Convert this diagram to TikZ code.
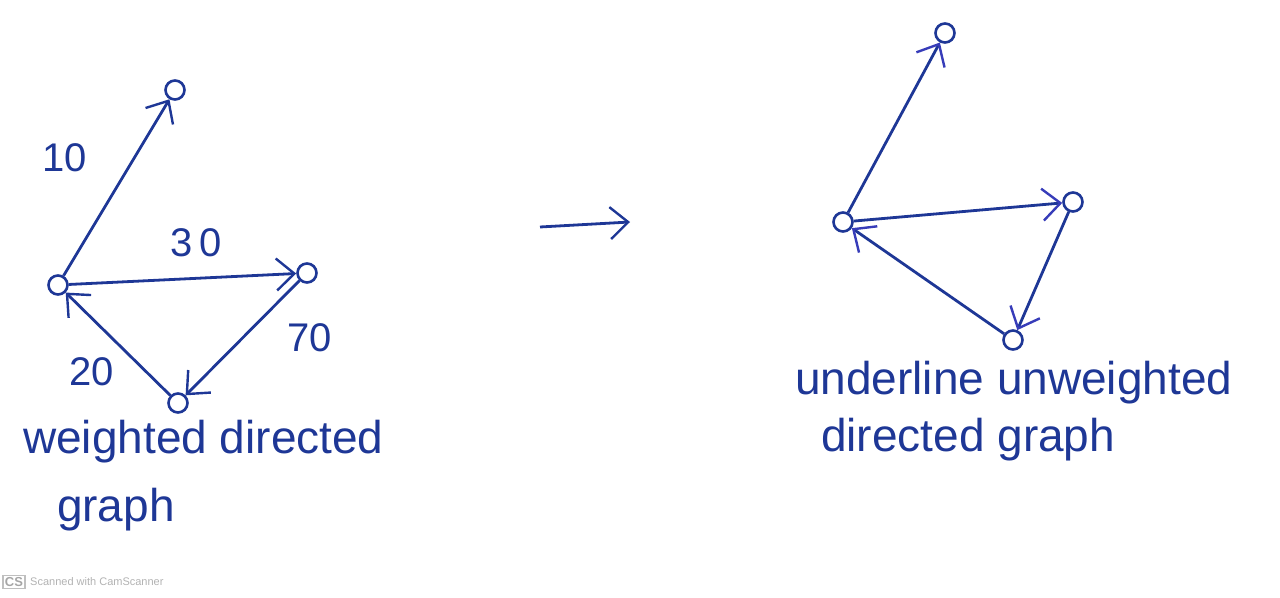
\documentclass[tikz,border=0pt]{standalone}
\usepackage{fontspec}
\setmainfont{Liberation Sans}
\usepackage{tikz}
\usetikzlibrary{arrows.meta}
\usetikzlibrary{positioning}
\usepackage{xcolor}
\definecolor{ink}{RGB}{30,55,150}
\definecolor{inktwo}{RGB}{55,60,185}
\tikzset{
  vx/.style={circle,draw=ink,line width=1.3pt,minimum size=9.5pt,inner sep=0pt},
  ed/.style={draw=ink,line width=1.4pt,-{Straight Barb[length=9pt,width=16pt,line width=1.2pt]}},
  edtwo/.style={ed,-{Straight Barb[length=9pt,width=16pt,line width=1.2pt,color=inktwo]}},
  wt/.style={text=ink,font=\fontsize{20}{22}\selectfont},
  captxt/.style={text=ink,font=\fontsize{23}{30}\selectfont,align=left,anchor=west}
}

\begin{document}
\begin{tikzpicture}[x=0.5pt,y=-0.5pt]
\useasboundingbox (0,0) rectangle (1280,598);
% weighted directed graph
\node[vx] (t1) at (175,90) {};
\node[vx] (l1) at (58,285) {};
\node[vx] (r1) at (307,273) {};
\node[vx] (b1) at (178,403) {};
\draw[ed] (l1) -- (t1);
\draw[ed] (l1) -- (r1);
\draw[ed] (r1) -- (b1);
\draw[ed] (b1) -- (l1);
\node[wt] (w10) at (65,158) {10};
\node[wt] (w30) at (196,243) {3\,0};
\node[wt] (w70) at (310,338) {70};
\node[wt] (w20) at (92,372) {20};
\node[captxt] (c1) at (16,442) {weighted directed};
\node[captxt] (c2) at (50,510) {graph};

% arrow in the middle
\coordinate (m1) at (540,227);
\coordinate (m2) at (630,222);
\draw[ed] (m1) -- (m2);

% underlying unweighted directed graph
\node[vx] (t2) at (945,33) {};
\node[vx] (l2) at (843,222) {};
\node[vx] (r2) at (1073,202) {};
\node[vx] (b2) at (1013,340) {};
\draw[edtwo] (l2) -- (t2);
\draw[edtwo] (l2) -- (r2);
\draw[edtwo] (r2) -- (b2);
\draw[edtwo] (b2) -- (l2);
\node[captxt] (c3) at (788,383) {underline unweighted};
\node[captxt] (c4) at (814,440) {directed graph};

% scanner mark
\node[draw=black!25,line width=0.8pt,text=black!35,font=\fontsize{6.5}{7}\selectfont\bfseries,inner sep=1pt] (cs) at (14,582) {CS};
\node[right=2pt of cs,text=black!30,font=\fontsize{5.5}{7}\selectfont,inner sep=0pt] (sc) {Scanned with CamScanner};
\end{tikzpicture}
\end{document}
